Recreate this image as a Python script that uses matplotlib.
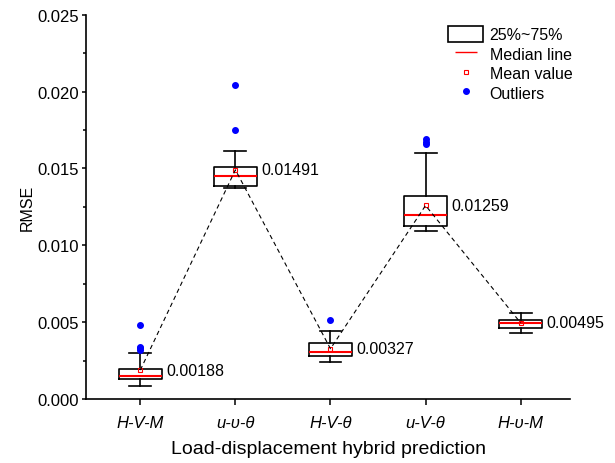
import numpy as np
import matplotlib
matplotlib.use("Agg")
import matplotlib.pyplot as plt
from matplotlib.lines import Line2D
from matplotlib.patches import Patch
from matplotlib.ticker import MultipleLocator, FormatStrFormatter

plt.rcParams['font.family'] = ['Liberation Sans', 'DejaVu Sans']

# ---- data ----
labels = ["H-V-M", "u-\u03c5-\u03b8", "H-V-\u03b8", "u-V-\u03b8", "H-\u03c5-M"]
q1 = [0.00130, 0.01389, 0.00278, 0.01127, 0.00462]
q3 = [0.00193, 0.01512, 0.00365, 0.01320, 0.00514]
medians = [0.00152, 0.01454, 0.00304, 0.01198, 0.00493]
whis_lo = [0.00083, 0.01372, 0.00239, 0.01094, 0.00430]
whis_hi = [0.00297, 0.01613, 0.00445, 0.01602, 0.00558]
means = [0.00188, 0.01491, 0.00327, 0.01259, 0.00495]
outliers = [
    [0.00482, 0.00340, 0.00330, 0.00320],
    [0.02044, 0.01747],
    [0.00514],
    [0.01690, 0.01675, 0.01660],
    [],
]

pos = np.arange(1, len(labels) + 1)

stats = []
for i in range(len(labels)):
    stats.append(dict(q1=q1[i], q3=q3[i], med=medians[i], whislo=whis_lo[i],
                      whishi=whis_hi[i], mean=means[i], fliers=outliers[i]))

fig = plt.figure(figsize=(6.15, 4.64), dpi=100)
ax = fig.add_axes([0.140, 0.138, 0.787, 0.828])

ax.bxp(stats, positions=pos, widths=0.45, showmeans=True, showfliers=True,
       boxprops=dict(color='black', linewidth=1.2),
       whiskerprops=dict(color='black', linewidth=1.2),
       capprops=dict(color='black', linewidth=1.2),
       capwidths=0.23,
       medianprops=dict(color='red', linewidth=1.5),
       meanprops=dict(marker='s', markerfacecolor='none', markeredgecolor='red',
                      markersize=3.5, markeredgewidth=0.8),
       flierprops=dict(marker='o', markerfacecolor='blue', markeredgecolor='blue',
                       markersize=4, linestyle='none'))

# dashed line linking the means
ax.plot(pos, means, color='black', linestyle=(0, (4, 3)), linewidth=0.8, zorder=5)

for p, m in zip(pos, means):
    ax.text(p + 0.275, m, "%.5f" % m, fontsize=11.5, va='center', ha='left')

ax.set_xlim(0.43, 5.52)
ax.set_ylim(0, 0.025)
ax.set_xticks(pos)
ax.set_xticklabels(labels, fontsize=12, style='italic')
ax.yaxis.set_major_locator(MultipleLocator(0.005))
ax.yaxis.set_minor_locator(MultipleLocator(0.0025))
ax.yaxis.set_major_formatter(FormatStrFormatter('%.3f'))
ax.tick_params(axis='y', which='major', labelsize=12, length=3, width=1.1, pad=2)
ax.tick_params(axis='y', which='minor', length=2, width=1.1)
ax.tick_params(axis='x', length=4.5, width=1.1, pad=7)

for s in ['top', 'right']:
    ax.spines[s].set_visible(False)
for s in ['left', 'bottom']:
    ax.spines[s].set_linewidth(1.2)

ax.set_xlabel("Load-displacement hybrid prediction", fontsize=14, labelpad=7)
ax.set_ylabel("RMSE", fontsize=11.5, labelpad=2)

handles = [
    Patch(facecolor='white', edgecolor='black', linewidth=1.2),
    Line2D([], [], color='red', marker='_', markersize=16.5, markeredgewidth=1.0, linestyle='none'),
    Line2D([], [], marker='s', markerfacecolor='none', markeredgecolor='red',
           markersize=3.5, markeredgewidth=0.8, linestyle='none'),
    Line2D([], [], marker='o', color='blue', markersize=4, linestyle='none'),
]
names = ["25%~75%", "Median line", "Mean value", "Outliers"]
ax.legend(handles, names, loc='upper left', bbox_to_anchor=(0.725, 1.0),
          frameon=False, fontsize=11.5, handlelength=2.2, handleheight=1.15,
          handletextpad=0.4, labelspacing=0.2, borderpad=0.2)

fig.savefig("out.png", dpi=100)
